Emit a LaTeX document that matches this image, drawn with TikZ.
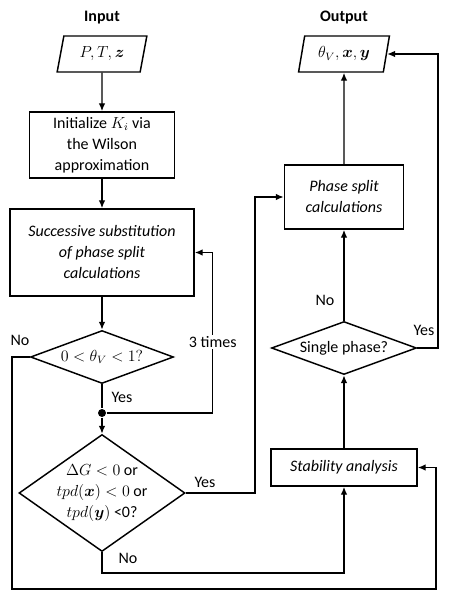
\documentclass[tikz,border=0pt]{standalone}
\usepackage[no-math]{fontspec}
\usepackage{amsmath,bm}
\setmainfont{Carlito}
\usetikzlibrary{arrows.meta,shapes.geometric}
\def\px{0.75pt}
\def\basefont{\fontsize{12}{15.75}\selectfont}
\tikzset{
	arr/.style={-{Latex[length=6pt,width=5pt]}},
	proc/.style={draw, rectangle, align=center, inner sep=1pt},
	italicproc/.style={proc, font=\basefont\itshape},
	io/.style={draw, trapezium, trapezium left angle=76, trapezium right angle=104, trapezium stretches=true, inner sep=1pt},
	decide/.style={draw, diamond, inner sep=0pt},
	tag/.style={inner sep=1pt},
}

\begin{document}
\begin{tikzpicture}[x=\px, y=-\px, line width=1.1pt, font=\basefont]
			%%%%% START %%%%%
			\useasboundingbox (0,0) rectangle (449,595);
			
			\node[font=\basefont\bfseries] (intitle) at (102,18) {Input};
			\node[font=\basefont\bfseries] (outtitle) at (344,18) {Output};
			
			\node[io, minimum width=90*\px, minimum height=36*\px] (in) at (102,54) {$P,T,\bm{z}$};
			\node[proc, minimum width=145*\px, minimum height=66*\px] (init) at (102,145) {Initialize $K_i$ via\\the Wilson\\approximation};
			\node[italicproc, minimum width=184*\px, minimum height=87*\px] (ss) at (102,252.5) {Successive substitution\\of phase split\\calculations};
			\node[decide, minimum width=143*\px, minimum height=53*\px, label={center:$0<\theta_V<1?$}] (d1) at (102,357) {};
			\node[circle, fill, inner sep=0pt, minimum size=8*\px] (dot) at (102,413) {};
			\node[decide, minimum width=166*\px, minimum height=117*\px, label={[align=center]center:{$\Delta G<0$ or\\$tpd(\bm{x})<0$ or\\$tpd(\bm{y})$ <0?}}] (d2) at (102,493) {};
			
			\node[io, minimum width=91*\px, minimum height=36*\px] (out) at (344,54) {$\theta_V,\bm{x},\bm{y}$};
			\node[italicproc, minimum width=119*\px, minimum height=64*\px] (ps) at (344,197) {Phase split\\calculations};
			\node[decide, minimum width=145*\px, minimum height=53*\px, label={center:Single phase?}] (d3) at (344,348) {};
			\node[italicproc, minimum width=146*\px, minimum height=37*\px] (sa) at (344,467.5) {Stability analysis};
			
			% left column
			\draw[arr] (in) -- (init);
			\draw[arr] (init) -- (ss);
			\draw[arr] (ss) -- (d1);
			\draw (d1) -- (dot);
			\draw[arr] (dot) -- (d2);
			\draw[arr] (dot) -| ([xshift=18*\px]ss.east) node[pos=0.72, fill=white, tag] (times) {3 times} -- (ss.east);
			\draw[arr] (d1.west) -- (12,357) |- (436,589) |- (sa.east);
			\draw[arr] (d2.east) -- (255,493) |- (ps.west);
			\draw[arr] (d2.south) -- (102,573) -| (sa.south);
			
			% right column
			\draw[arr] (sa) -- (d3);
			\draw[arr] (d3) -- (ps);
			\draw[arr] (ps) -- (out);
			\draw[arr] (d3.east) -- (438,348) |- (out.east);
			
			\node[tag] (no1) at (20,340) {No};
			\node[tag] (yes1) at (122,397) {Yes};
			\node[tag] (yes2) at (205,482) {Yes};
			\node[tag] (no2) at (128,558) {No};
			\node[tag] (no3) at (325,300) {No};
			\node[tag] (yes3) at (424,330) {Yes};
			%%%%% END %%%%%
\end{tikzpicture}
\end{document}
